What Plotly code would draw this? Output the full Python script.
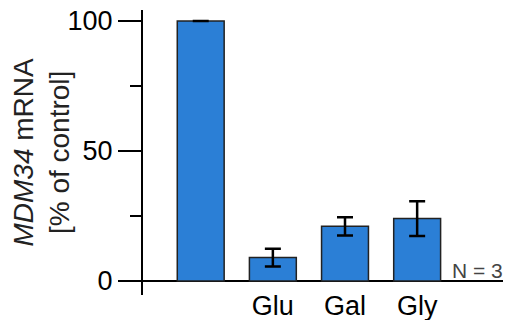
import plotly.graph_objects as go

categories = ["", "Glu", "Gal", "Gly"]
values = [100, 9, 21, 24]
errors = [None, 3.4, 3.5, 6.7]
positions = [0, 1, 2, 3]
y_title = "<i>MDM34</i> mRNA<br>[% of control]"

FONT = "Liberation Sans, Arial, sans-serif"

fig = go.Figure()
fig.add_trace(go.Bar(
    x=positions, y=values,
    width=0.65,
    marker=dict(color="#2b7fd6", line=dict(color="#222222", width=1.5)),
    error_y=dict(type="data", array=errors, visible=True, color="black",
                 thickness=2.5, width=8),
    showlegend=False,
))

fig.add_annotation(x=1, xref="paper", xanchor="right", y=0, yref="y", yanchor="bottom",
                   text="N = 3", showarrow=False, font=dict(family=FONT, size=21, color="#444444"),
                   yshift=-3, xshift=2)

fig.add_annotation(x=0, xref="paper", xanchor="center", xshift=-102,
                   y=0.5, yref="paper", yanchor="middle",
                   text=y_title, textangle=-90, showarrow=False,
                   font=dict(family=FONT, size=28, color="#222222"))

fig.update_layout(
    width=505, height=320,
    margin=dict(l=143, r=2, t=10, b=25),
    plot_bgcolor="white", paper_bgcolor="white",
    font=dict(family=FONT, size=27, color="black"),
    bargap=0.35,
    xaxis=dict(
        range=[-0.8, 4.19],
        tickvals=positions, ticktext=categories,
        showline=False, showgrid=False, zeroline=False,
        ticks="", ticklen=0, automargin=False,
        ticklabelstandoff=-8,
        tickfont=dict(family=FONT, size=27, color="black"),
    ),
    yaxis=dict(
        range=[-5.4, 104.2],
        tickvals=[0, 50, 100], automargin=False,
        showline=True, linecolor="black", linewidth=2,
        ticks="outside", ticklen=23, tickwidth=2, tickcolor="black",
        minor=dict(tickvals=[25, 75], ticks="outside", ticklen=11, tickwidth=2, tickcolor="black"),
        showgrid=False,
        zeroline=True, zerolinecolor="black", zerolinewidth=2,
        tickfont=dict(family=FONT, size=27, color="black"),
    ),
)

fig.write_html("out.html", config={"displayModeBar": False},
               post_script="document.body.style.margin='0px';")
